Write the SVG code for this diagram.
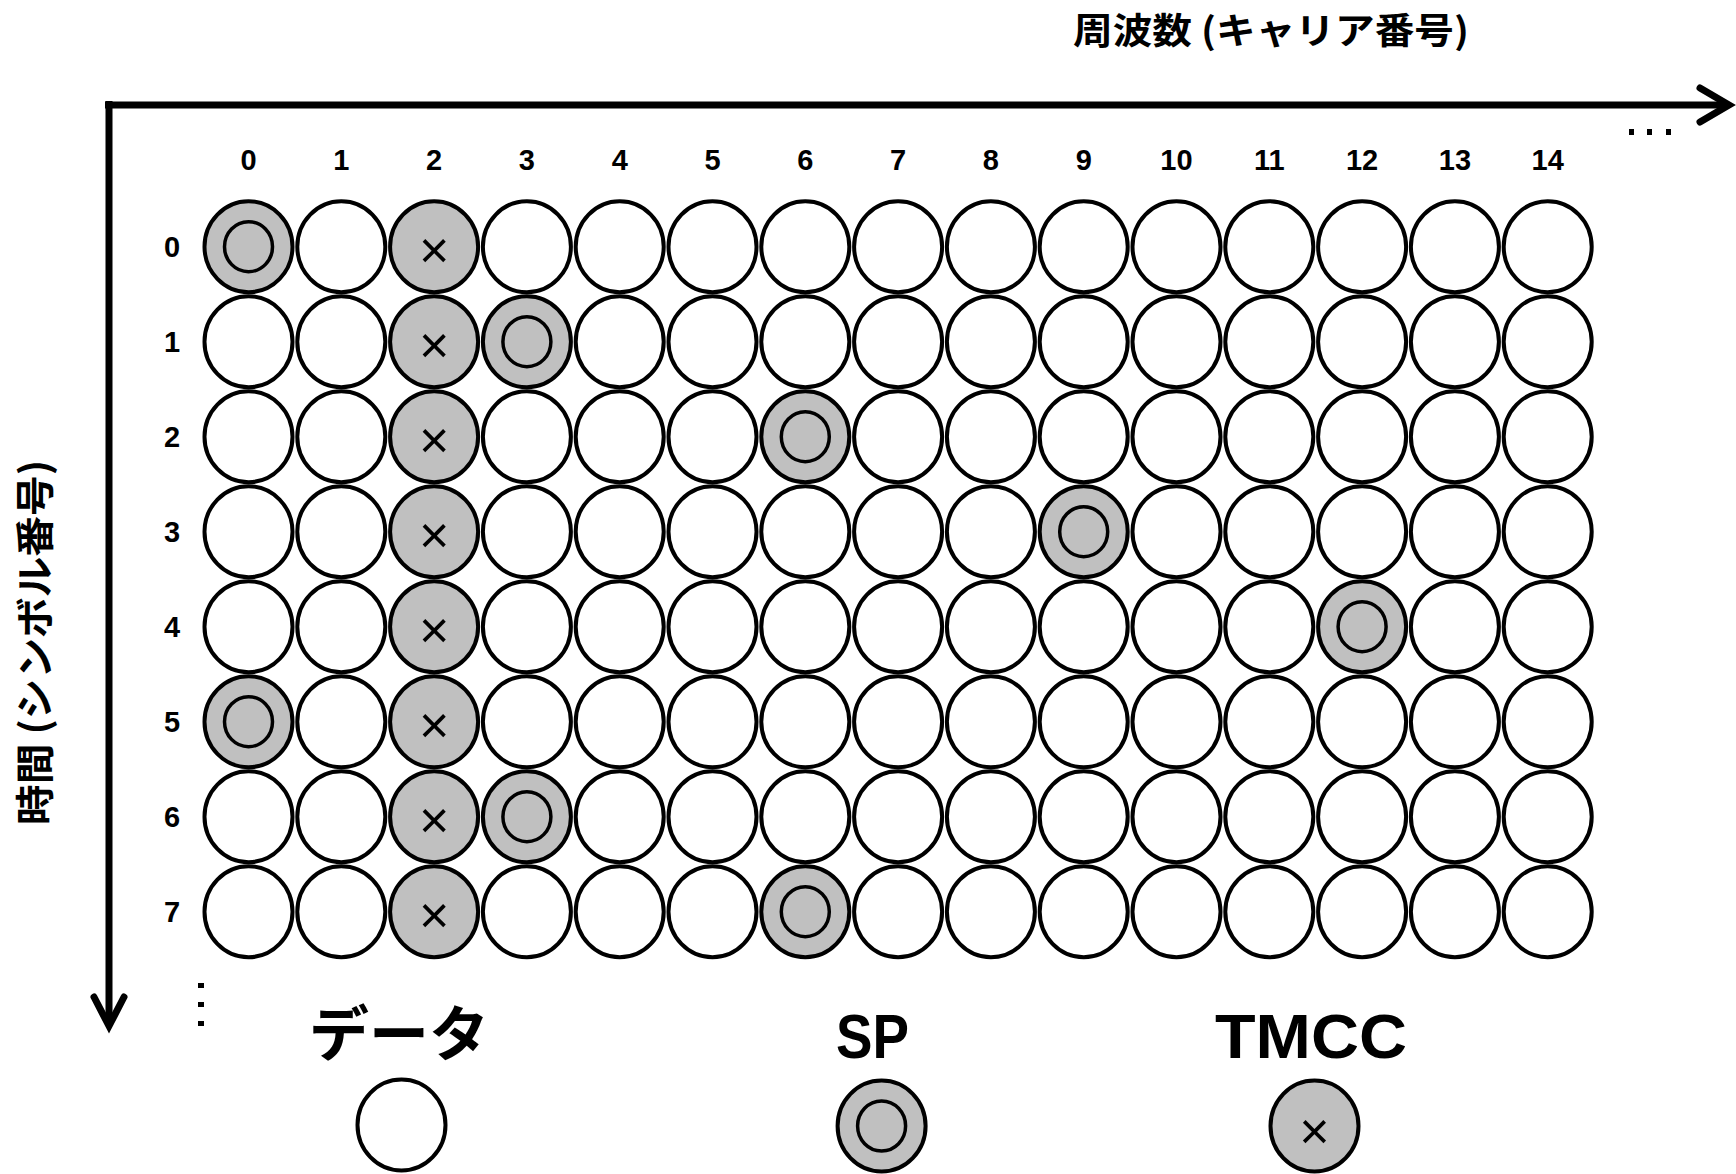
<svg xmlns="http://www.w3.org/2000/svg" xmlns:xlink="http://www.w3.org/1999/xlink" width="1736" height="1174" viewBox="0 0 1736 1174">
<style>
.lbl{font-family:"Liberation Sans",Arial,sans-serif;font-weight:bold;font-size:29px;fill:#000;text-anchor:middle}
.jp{font-family:"Noto Sans CJK JP","Noto Sans CJK SC",sans-serif;font-weight:bold;fill:#000}
.lat{font-family:"Liberation Sans",Arial,sans-serif;font-weight:bold;fill:#000}
.x{font-family:"Liberation Sans",Arial,sans-serif;font-size:52px;fill:#000;text-anchor:middle}
.ax{fill:none;stroke:#000;stroke-width:7;stroke-linecap:butt}
.ah{fill:none;stroke:#000;stroke-width:7;stroke-linecap:round;stroke-linejoin:miter}
</style>
<defs>
<ellipse id="data" rx="44" ry="45.5" fill="#fff" stroke="#000" stroke-width="4"/>
<g id="sp"><ellipse rx="44" ry="45.5" fill="#c0c0c0" stroke="#000" stroke-width="4"/><ellipse rx="24" ry="25" fill="none" stroke="#000" stroke-width="3.5"/></g>
<ellipse id="tm" rx="44" ry="45.5" fill="#c0c0c0" stroke="#000" stroke-width="4"/>
</defs>
<rect width="1736" height="1174" fill="#fff"/>

<g id="connectors">
<path class="ax" d="M105,105 H1728"/>
<polyline class="ah" points="1700,88 1729,105 1700,122"/>
<path class="ax" d="M109,101 V1025"/>
<polyline class="ah" points="94,997 109,1026 124,997"/>
</g>

<g id="axis-titles">
<text class="jp" x="1073" y="44" font-size="36" textLength="396" lengthAdjust="spacingAndGlyphs">周波数 (キャリア番号)</text>
<text class="jp" font-size="39" transform="translate(49,825) rotate(-90)" x="0" y="0" textLength="365" lengthAdjust="spacingAndGlyphs">時間 (シンボル番号)</text>
</g>

<g id="ellipsis">
<rect x="1629" y="129" width="5" height="6"/><rect x="1647" y="129" width="5" height="6"/><rect x="1666" y="129" width="5" height="6"/>
<rect x="198" y="983" width="6" height="5"/><rect x="198" y="1002" width="6" height="5"/><rect x="198" y="1021" width="6" height="5"/>
</g>

<g id="col-labels">
<text class="lbl" x="248.5" y="170">0</text>
<text class="lbl" x="341.3" y="170">1</text>
<text class="lbl" x="434.1" y="170">2</text>
<text class="lbl" x="526.9" y="170">3</text>
<text class="lbl" x="619.7" y="170">4</text>
<text class="lbl" x="712.5" y="170">5</text>
<text class="lbl" x="805.3" y="170">6</text>
<text class="lbl" x="898.1" y="170">7</text>
<text class="lbl" x="990.9" y="170">8</text>
<text class="lbl" x="1083.7" y="170">9</text>
<text class="lbl" x="1176.5" y="170">10</text>
<text class="lbl" x="1269.3" y="170">11</text>
<text class="lbl" x="1362.1" y="170">12</text>
<text class="lbl" x="1454.9" y="170">13</text>
<text class="lbl" x="1547.7" y="170">14</text>
</g>
<g id="row-labels">
<text class="lbl" x="172" y="257">0</text>
<text class="lbl" x="172" y="352">1</text>
<text class="lbl" x="172" y="447">2</text>
<text class="lbl" x="172" y="542">3</text>
<text class="lbl" x="172" y="637">4</text>
<text class="lbl" x="172" y="732">5</text>
<text class="lbl" x="172" y="827">6</text>
<text class="lbl" x="172" y="922">7</text>
</g>

<g id="data-cells">
<g id="r0c1"><use xlink:href="#data" x="341.3" y="246.7"/></g>
<g id="r0c3"><use xlink:href="#data" x="526.9" y="246.7"/></g>
<g id="r0c4"><use xlink:href="#data" x="619.7" y="246.7"/></g>
<g id="r0c5"><use xlink:href="#data" x="712.5" y="246.7"/></g>
<g id="r0c6"><use xlink:href="#data" x="805.3" y="246.7"/></g>
<g id="r0c7"><use xlink:href="#data" x="898.1" y="246.7"/></g>
<g id="r0c8"><use xlink:href="#data" x="990.9" y="246.7"/></g>
<g id="r0c9"><use xlink:href="#data" x="1083.7" y="246.7"/></g>
<g id="r0c10"><use xlink:href="#data" x="1176.5" y="246.7"/></g>
<g id="r0c11"><use xlink:href="#data" x="1269.3" y="246.7"/></g>
<g id="r0c12"><use xlink:href="#data" x="1362.1" y="246.7"/></g>
<g id="r0c13"><use xlink:href="#data" x="1454.9" y="246.7"/></g>
<g id="r0c14"><use xlink:href="#data" x="1547.7" y="246.7"/></g>

<g id="r1c0"><use xlink:href="#data" x="248.5" y="341.7"/></g>
<g id="r1c1"><use xlink:href="#data" x="341.3" y="341.7"/></g>
<g id="r1c4"><use xlink:href="#data" x="619.7" y="341.7"/></g>
<g id="r1c5"><use xlink:href="#data" x="712.5" y="341.7"/></g>
<g id="r1c6"><use xlink:href="#data" x="805.3" y="341.7"/></g>
<g id="r1c7"><use xlink:href="#data" x="898.1" y="341.7"/></g>
<g id="r1c8"><use xlink:href="#data" x="990.9" y="341.7"/></g>
<g id="r1c9"><use xlink:href="#data" x="1083.7" y="341.7"/></g>
<g id="r1c10"><use xlink:href="#data" x="1176.5" y="341.7"/></g>
<g id="r1c11"><use xlink:href="#data" x="1269.3" y="341.7"/></g>
<g id="r1c12"><use xlink:href="#data" x="1362.1" y="341.7"/></g>
<g id="r1c13"><use xlink:href="#data" x="1454.9" y="341.7"/></g>
<g id="r1c14"><use xlink:href="#data" x="1547.7" y="341.7"/></g>

<g id="r2c0"><use xlink:href="#data" x="248.5" y="436.7"/></g>
<g id="r2c1"><use xlink:href="#data" x="341.3" y="436.7"/></g>
<g id="r2c3"><use xlink:href="#data" x="526.9" y="436.7"/></g>
<g id="r2c4"><use xlink:href="#data" x="619.7" y="436.7"/></g>
<g id="r2c5"><use xlink:href="#data" x="712.5" y="436.7"/></g>
<g id="r2c7"><use xlink:href="#data" x="898.1" y="436.7"/></g>
<g id="r2c8"><use xlink:href="#data" x="990.9" y="436.7"/></g>
<g id="r2c9"><use xlink:href="#data" x="1083.7" y="436.7"/></g>
<g id="r2c10"><use xlink:href="#data" x="1176.5" y="436.7"/></g>
<g id="r2c11"><use xlink:href="#data" x="1269.3" y="436.7"/></g>
<g id="r2c12"><use xlink:href="#data" x="1362.1" y="436.7"/></g>
<g id="r2c13"><use xlink:href="#data" x="1454.9" y="436.7"/></g>
<g id="r2c14"><use xlink:href="#data" x="1547.7" y="436.7"/></g>

<g id="r3c0"><use xlink:href="#data" x="248.5" y="531.7"/></g>
<g id="r3c1"><use xlink:href="#data" x="341.3" y="531.7"/></g>
<g id="r3c3"><use xlink:href="#data" x="526.9" y="531.7"/></g>
<g id="r3c4"><use xlink:href="#data" x="619.7" y="531.7"/></g>
<g id="r3c5"><use xlink:href="#data" x="712.5" y="531.7"/></g>
<g id="r3c6"><use xlink:href="#data" x="805.3" y="531.7"/></g>
<g id="r3c7"><use xlink:href="#data" x="898.1" y="531.7"/></g>
<g id="r3c8"><use xlink:href="#data" x="990.9" y="531.7"/></g>
<g id="r3c10"><use xlink:href="#data" x="1176.5" y="531.7"/></g>
<g id="r3c11"><use xlink:href="#data" x="1269.3" y="531.7"/></g>
<g id="r3c12"><use xlink:href="#data" x="1362.1" y="531.7"/></g>
<g id="r3c13"><use xlink:href="#data" x="1454.9" y="531.7"/></g>
<g id="r3c14"><use xlink:href="#data" x="1547.7" y="531.7"/></g>

<g id="r4c0"><use xlink:href="#data" x="248.5" y="626.7"/></g>
<g id="r4c1"><use xlink:href="#data" x="341.3" y="626.7"/></g>
<g id="r4c3"><use xlink:href="#data" x="526.9" y="626.7"/></g>
<g id="r4c4"><use xlink:href="#data" x="619.7" y="626.7"/></g>
<g id="r4c5"><use xlink:href="#data" x="712.5" y="626.7"/></g>
<g id="r4c6"><use xlink:href="#data" x="805.3" y="626.7"/></g>
<g id="r4c7"><use xlink:href="#data" x="898.1" y="626.7"/></g>
<g id="r4c8"><use xlink:href="#data" x="990.9" y="626.7"/></g>
<g id="r4c9"><use xlink:href="#data" x="1083.7" y="626.7"/></g>
<g id="r4c10"><use xlink:href="#data" x="1176.5" y="626.7"/></g>
<g id="r4c11"><use xlink:href="#data" x="1269.3" y="626.7"/></g>
<g id="r4c13"><use xlink:href="#data" x="1454.9" y="626.7"/></g>
<g id="r4c14"><use xlink:href="#data" x="1547.7" y="626.7"/></g>

<g id="r5c1"><use xlink:href="#data" x="341.3" y="721.7"/></g>
<g id="r5c3"><use xlink:href="#data" x="526.9" y="721.7"/></g>
<g id="r5c4"><use xlink:href="#data" x="619.7" y="721.7"/></g>
<g id="r5c5"><use xlink:href="#data" x="712.5" y="721.7"/></g>
<g id="r5c6"><use xlink:href="#data" x="805.3" y="721.7"/></g>
<g id="r5c7"><use xlink:href="#data" x="898.1" y="721.7"/></g>
<g id="r5c8"><use xlink:href="#data" x="990.9" y="721.7"/></g>
<g id="r5c9"><use xlink:href="#data" x="1083.7" y="721.7"/></g>
<g id="r5c10"><use xlink:href="#data" x="1176.5" y="721.7"/></g>
<g id="r5c11"><use xlink:href="#data" x="1269.3" y="721.7"/></g>
<g id="r5c12"><use xlink:href="#data" x="1362.1" y="721.7"/></g>
<g id="r5c13"><use xlink:href="#data" x="1454.9" y="721.7"/></g>
<g id="r5c14"><use xlink:href="#data" x="1547.7" y="721.7"/></g>

<g id="r6c0"><use xlink:href="#data" x="248.5" y="816.7"/></g>
<g id="r6c1"><use xlink:href="#data" x="341.3" y="816.7"/></g>
<g id="r6c4"><use xlink:href="#data" x="619.7" y="816.7"/></g>
<g id="r6c5"><use xlink:href="#data" x="712.5" y="816.7"/></g>
<g id="r6c6"><use xlink:href="#data" x="805.3" y="816.7"/></g>
<g id="r6c7"><use xlink:href="#data" x="898.1" y="816.7"/></g>
<g id="r6c8"><use xlink:href="#data" x="990.9" y="816.7"/></g>
<g id="r6c9"><use xlink:href="#data" x="1083.7" y="816.7"/></g>
<g id="r6c10"><use xlink:href="#data" x="1176.5" y="816.7"/></g>
<g id="r6c11"><use xlink:href="#data" x="1269.3" y="816.7"/></g>
<g id="r6c12"><use xlink:href="#data" x="1362.1" y="816.7"/></g>
<g id="r6c13"><use xlink:href="#data" x="1454.9" y="816.7"/></g>
<g id="r6c14"><use xlink:href="#data" x="1547.7" y="816.7"/></g>

<g id="r7c0"><use xlink:href="#data" x="248.5" y="911.7"/></g>
<g id="r7c1"><use xlink:href="#data" x="341.3" y="911.7"/></g>
<g id="r7c3"><use xlink:href="#data" x="526.9" y="911.7"/></g>
<g id="r7c4"><use xlink:href="#data" x="619.7" y="911.7"/></g>
<g id="r7c5"><use xlink:href="#data" x="712.5" y="911.7"/></g>
<g id="r7c7"><use xlink:href="#data" x="898.1" y="911.7"/></g>
<g id="r7c8"><use xlink:href="#data" x="990.9" y="911.7"/></g>
<g id="r7c9"><use xlink:href="#data" x="1083.7" y="911.7"/></g>
<g id="r7c10"><use xlink:href="#data" x="1176.5" y="911.7"/></g>
<g id="r7c11"><use xlink:href="#data" x="1269.3" y="911.7"/></g>
<g id="r7c12"><use xlink:href="#data" x="1362.1" y="911.7"/></g>
<g id="r7c13"><use xlink:href="#data" x="1454.9" y="911.7"/></g>
<g id="r7c14"><use xlink:href="#data" x="1547.7" y="911.7"/></g>
</g>

<g id="sp-cells">
<g id="r0c0"><use xlink:href="#sp" x="248.5" y="246.7"/></g>
<g id="r1c3"><use xlink:href="#sp" x="526.9" y="341.7"/></g>
<g id="r2c6"><use xlink:href="#sp" x="805.3" y="436.7"/></g>
<g id="r3c9"><use xlink:href="#sp" x="1083.7" y="531.7"/></g>
<g id="r4c12"><use xlink:href="#sp" x="1362.1" y="626.7"/></g>
<g id="r5c0"><use xlink:href="#sp" x="248.5" y="721.7"/></g>
<g id="r6c3"><use xlink:href="#sp" x="526.9" y="816.7"/></g>
<g id="r7c6"><use xlink:href="#sp" x="805.3" y="911.7"/></g>
</g>

<g id="tmcc-cells">
<g id="r0c2"><use xlink:href="#tm" x="434.1" y="246.7"/><text class="x" x="434.1" y="268">×</text></g>
<g id="r1c2"><use xlink:href="#tm" x="434.1" y="341.7"/><text class="x" x="434.1" y="363">×</text></g>
<g id="r2c2"><use xlink:href="#tm" x="434.1" y="436.7"/><text class="x" x="434.1" y="458">×</text></g>
<g id="r3c2"><use xlink:href="#tm" x="434.1" y="531.7"/><text class="x" x="434.1" y="553">×</text></g>
<g id="r4c2"><use xlink:href="#tm" x="434.1" y="626.7"/><text class="x" x="434.1" y="648">×</text></g>
<g id="r5c2"><use xlink:href="#tm" x="434.1" y="721.7"/><text class="x" x="434.1" y="743">×</text></g>
<g id="r6c2"><use xlink:href="#tm" x="434.1" y="816.7"/><text class="x" x="434.1" y="838">×</text></g>
<g id="r7c2"><use xlink:href="#tm" x="434.1" y="911.7"/><text class="x" x="434.1" y="933">×</text></g>
</g>

<g id="legend-data">
<text class="jp" x="399" y="1056" font-size="60" text-anchor="middle">データ</text>
<use xlink:href="#data" x="401.5" y="1125"/>
</g>
<g id="legend-sp">
<text class="lat" x="872.5" y="1058" font-size="63" text-anchor="middle" textLength="73" lengthAdjust="spacingAndGlyphs">SP</text>
<use xlink:href="#sp" x="881.6" y="1126"/>
</g>
<g id="legend-tmcc">
<text class="lat" x="1311" y="1058" font-size="63" text-anchor="middle" textLength="192" lengthAdjust="spacingAndGlyphs">TMCC</text>
<use xlink:href="#tm" x="1314.5" y="1126"/>
<text class="x" x="1314.5" y="1149">×</text>
</g>
</svg>
